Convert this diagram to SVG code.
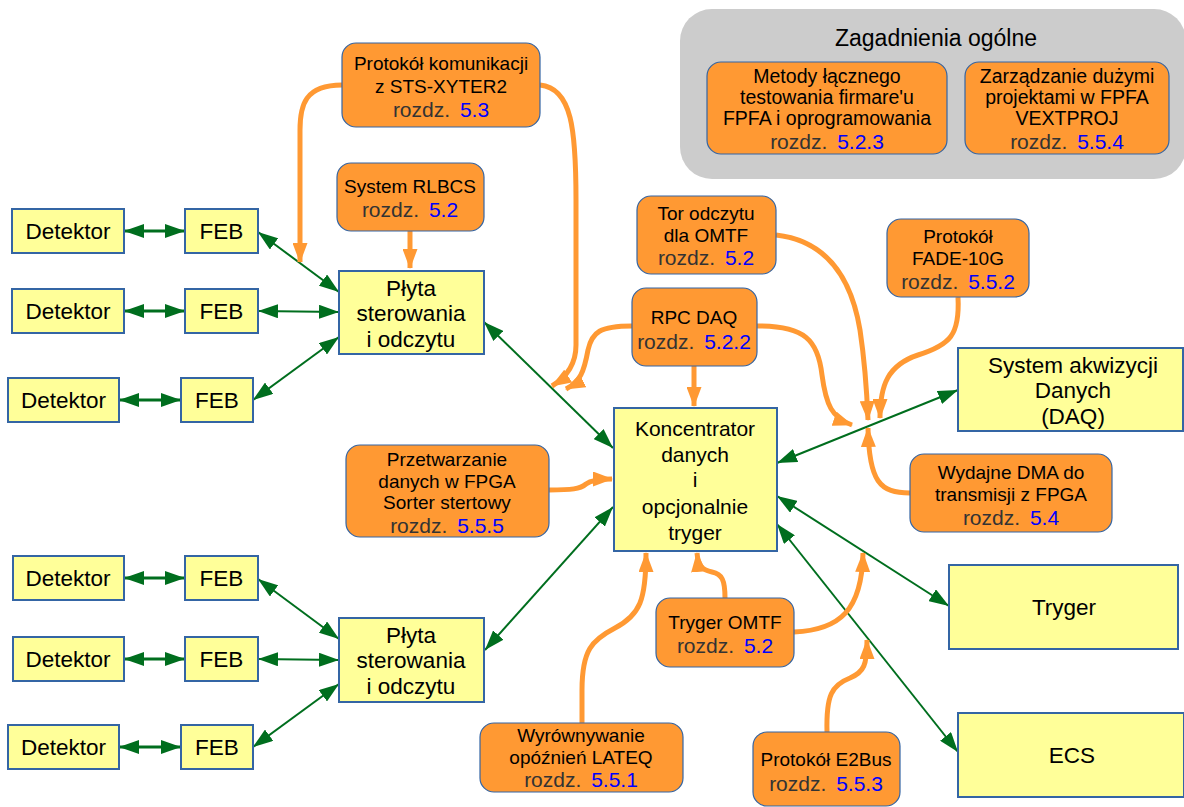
<svg xmlns="http://www.w3.org/2000/svg" width="1184" height="807" viewBox="0 0 1184 807">
<style>
.y{fill:#ffff99;stroke:#3465a4;stroke-width:2}
.o{fill:#ff9933;stroke:#3465a4;stroke-width:1.2}
.t{font-family:"Liberation Sans",Arial,sans-serif;fill:#000;text-anchor:middle}
.yt{font-size:22.5px}
.kt{font-size:21px}
.ot{font-size:19px}
.r{font-size:21px;fill:#333}
.n{fill:#0000ff}
.g{stroke:#006e1e;fill:none;stroke-width:2}
.g3{stroke:#006e1e;fill:none;stroke-width:3}
.oc{stroke:#ff9933;fill:none;stroke-width:5}
</style>
<defs>
<marker id="ga" markerUnits="userSpaceOnUse" viewBox="0 0 20 14" markerWidth="20" markerHeight="14" refX="20" refY="7" orient="auto-start-reverse"><path d="M0,0 L20,7 L0,14 z" fill="#006e1e"/></marker>
<marker id="oa" markerUnits="userSpaceOnUse" viewBox="0 0 20 15" markerWidth="20" markerHeight="15" refX="19" refY="7.5" orient="auto"><path d="M0,0 L20,7.5 L0,15 z" fill="#ff9933"/></marker>
</defs>
<g id="zagadnienia">
<rect x="680" y="9" width="506" height="170" rx="32" fill="#cccccc"/>
<text class="t" x="936" y="46" font-size="23">Zagadnienia ogólne</text>
</g>
<g id="metody">
<rect class="o" x="707" y="62" width="240" height="92" rx="14"/>
<text class="t" font-size="19.5" x="827" y="83">Metody łącznego</text>
<text class="t" font-size="19.5" x="827" y="104">testowania firmare'u</text>
<text class="t" font-size="19.5" x="827" y="125">FPFA i oprogramowania</text>
<text class="t r" x="827" y="149">rozdz. <tspan class="n" dx="4">5.2.3</tspan></text>
</g>
<g id="zarzadzanie">
<rect class="o" x="965" y="62" width="204" height="92" rx="14"/>
<text class="t" font-size="19.5" x="1067" y="83">Zarządzanie dużymi</text>
<text class="t" font-size="19.5" x="1067" y="104">projektami w FPFA</text>
<text class="t" font-size="19.5" x="1067" y="125">VEXTPROJ</text>
<text class="t r" x="1067" y="149">rozdz. <tspan class="n" dx="4">5.5.4</tspan></text>
</g>
<g id="connectors">
<path class="g3" d="M124,231 L185,231" marker-start="url(#ga)" marker-end="url(#ga)"/>
<path class="g3" d="M124,311 L185,311" marker-start="url(#ga)" marker-end="url(#ga)"/>
<path class="g3" d="M119,400 L181,400" marker-start="url(#ga)" marker-end="url(#ga)"/>
<path class="g3" d="M124,578 L185,578" marker-start="url(#ga)" marker-end="url(#ga)"/>
<path class="g3" d="M124,659 L185,659" marker-start="url(#ga)" marker-end="url(#ga)"/>
<path class="g3" d="M119,747 L181,747" marker-start="url(#ga)" marker-end="url(#ga)"/>
<path class="g" d="M258,232 L339,292" marker-start="url(#ga)" marker-end="url(#ga)"/>
<path class="g" d="M258,311 L339,312" marker-start="url(#ga)" marker-end="url(#ga)"/>
<path class="g" d="M253,400 L339,337" marker-start="url(#ga)" marker-end="url(#ga)"/>
<path class="g" d="M258,579 L339,639" marker-start="url(#ga)" marker-end="url(#ga)"/>
<path class="g" d="M258,659 L339,660" marker-start="url(#ga)" marker-end="url(#ga)"/>
<path class="g" d="M253,747 L339,684" marker-start="url(#ga)" marker-end="url(#ga)"/>
<path class="g" d="M484,322 L613,448" marker-start="url(#ga)" marker-end="url(#ga)"/>
<path class="g" d="M485,650 L613,507" marker-start="url(#ga)" marker-end="url(#ga)"/>
<path class="g" d="M777,463 L958,390" marker-start="url(#ga)" marker-end="url(#ga)"/>
<path class="g" d="M777,496 L949,606" marker-start="url(#ga)" marker-end="url(#ga)"/>
<path class="g" d="M777,524 L958,752" marker-start="url(#ga)" marker-end="url(#ga)"/>
<path class="oc" d="M342,85 C305,85 300,105 300,130 L300,262" marker-end="url(#oa)"/>
<path class="oc" d="M540,85 C572,88 576,130 576,200 L576,345 C576,365 565,378 552,386" marker-end="url(#oa)"/>
<path class="oc" d="M410,231 L410,268" marker-end="url(#oa)"/>
<path class="oc" d="M632,326 C600,326 592,332 588,350 C584,372 580,382 566,389" marker-end="url(#oa)"/>
<path class="oc" d="M694,366 L694,406" marker-end="url(#oa)"/>
<path class="oc" d="M757,326 C805,326 818,340 822,375 C826,405 832,418 852,425" marker-end="url(#oa)"/>
<path class="oc" d="M776,235 C820,240 850,270 860,330 C866,370 867,395 868,420" marker-end="url(#oa)"/>
<path class="oc" d="M958,297 C960,335 950,345 918,355 C888,365 880,385 880,418" marker-end="url(#oa)"/>
<path class="oc" d="M910,493 C880,493 869,482 868,428" marker-end="url(#oa)"/>
<path class="oc" d="M549,490 C572,490 580,489 586,484 C590,481 596,479 612,479" marker-end="url(#oa)"/>
<path class="oc" d="M725,598 C725,580 722,574 712,572 C702,570 698,565 697,553" marker-end="url(#oa)"/>
<path class="oc" d="M794,632 C840,630 862,610 863,553" marker-end="url(#oa)"/>
<path class="oc" d="M582,723 L582,690 C582,650 592,640 615,628 C640,615 646,600 646,553" marker-end="url(#oa)"/>
<path class="oc" d="M827,732 C826,695 832,685 850,678 C864,672 867,665 867,640" marker-end="url(#oa)"/>
</g>
<g id="det1"><rect class="y" x="12" y="209" width="112" height="44"/><text class="t yt" x="68" y="239">Detektor</text></g>
<g id="feb1"><rect class="y" x="185" y="209" width="73" height="44"/><text class="t yt" x="221.5" y="239">FEB</text></g>
<g id="det2"><rect class="y" x="12" y="289" width="112" height="44"/><text class="t yt" x="68" y="319">Detektor</text></g>
<g id="feb2"><rect class="y" x="185" y="289" width="73" height="44"/><text class="t yt" x="221.5" y="319">FEB</text></g>
<g id="det3"><rect class="y" x="8" y="378" width="111" height="44"/><text class="t yt" x="63.5" y="408">Detektor</text></g>
<g id="feb3"><rect class="y" x="181" y="378" width="72" height="44"/><text class="t yt" x="217" y="408">FEB</text></g>
<g id="det4"><rect class="y" x="13" y="556" width="111" height="44"/><text class="t yt" x="68" y="586">Detektor</text></g>
<g id="feb4"><rect class="y" x="185" y="556" width="73" height="44"/><text class="t yt" x="221.5" y="586">FEB</text></g>
<g id="det5"><rect class="y" x="13" y="637" width="111" height="44"/><text class="t yt" x="68" y="667">Detektor</text></g>
<g id="feb5"><rect class="y" x="185" y="637" width="73" height="44"/><text class="t yt" x="221.5" y="667">FEB</text></g>
<g id="det6"><rect class="y" x="8" y="725" width="111" height="44"/><text class="t yt" x="63.5" y="755">Detektor</text></g>
<g id="feb6"><rect class="y" x="181" y="725" width="72" height="44"/><text class="t yt" x="217" y="755">FEB</text></g>
<g id="plyta1"><rect class="y" x="339" y="271" width="145" height="83"/>
<text class="t yt" x="411" y="296">Płyta</text><text class="t yt" x="411" y="321">sterowania</text><text class="t yt" x="411" y="347">i odczytu</text></g>
<g id="plyta2"><rect class="y" x="339" y="618" width="145" height="84"/>
<text class="t yt" x="411" y="643">Płyta</text><text class="t yt" x="411" y="668">sterowania</text><text class="t yt" x="411" y="694">i odczytu</text></g>
<g id="koncentrator"><rect class="y" x="614" y="408" width="163" height="143"/>
<text class="t kt" x="695" y="436">Koncentrator</text><text class="t kt" x="695" y="462">danych</text><text class="t kt" x="695" y="487">i</text><text class="t kt" x="695" y="514">opcjonalnie</text><text class="t kt" x="695" y="540">tryger</text></g>
<g id="daq"><rect class="y" x="958" y="348" width="225" height="83"/>
<text class="t yt" x="1073" y="373">System akwizycji</text><text class="t yt" x="1073" y="398">Danych</text><text class="t yt" x="1073" y="424">(DAQ)</text></g>
<g id="tryger"><rect class="y" x="949" y="565" width="229" height="84"/><text class="t yt" x="1064" y="615">Tryger</text></g>
<g id="ecs"><rect class="y" x="958" y="713" width="226" height="84"/><text class="t yt" x="1072" y="763">ECS</text></g>
<g id="protokol-sts"><rect class="o" x="342" y="43" width="198" height="84" rx="14"/>
<text class="t ot" x="441" y="70">Protokół komunikacji</text><text class="t ot" x="441" y="93">z STS-XYTER2</text><text class="t r" x="441" y="117">rozdz. <tspan class="n" dx="4">5.3</tspan></text></g>
<g id="rlbcs"><rect class="o" x="337" y="163" width="147" height="68" rx="14"/>
<text class="t ot" x="410" y="193">System RLBCS</text><text class="t r" x="410" y="217">rozdz. <tspan class="n" dx="4">5.2</tspan></text></g>
<g id="tor-omtf"><rect class="o" x="637" y="196" width="139" height="78" rx="14"/>
<text class="t ot" x="706" y="220">Tor odczytu</text><text class="t ot" x="706" y="242">dla OMTF</text><text class="t r" x="706" y="265">rozdz. <tspan class="n" dx="4">5.2</tspan></text></g>
<g id="rpc-daq"><rect class="o" x="632" y="288" width="125" height="78" rx="14"/>
<text class="t ot" x="694" y="324">RPC DAQ</text><text class="t r" x="694" y="349">rozdz. <tspan class="n" dx="4">5.2.2</tspan></text></g>
<g id="fade"><rect class="o" x="887" y="219" width="142" height="78" rx="14"/>
<text class="t ot" x="958" y="243">Protokół</text><text class="t ot" x="958" y="265">FADE-10G</text><text class="t r" x="958" y="289">rozdz. <tspan class="n" dx="4">5.5.2</tspan></text></g>
<g id="dma"><rect class="o" x="910" y="454" width="202" height="78" rx="14"/>
<text class="t ot" x="1011" y="479">Wydajne DMA do</text><text class="t ot" x="1011" y="501">transmisji z FPGA</text><text class="t r" x="1011" y="525">rozdz. <tspan class="n" dx="4">5.4</tspan></text></g>
<g id="przetwarzanie"><rect class="o" x="346" y="445" width="203" height="92" rx="14"/>
<text class="t ot" x="447" y="466">Przetwarzanie</text><text class="t ot" x="447" y="488">danych w FPGA</text><text class="t ot" x="447" y="509">Sorter stertowy</text><text class="t r" x="447" y="533">rozdz. <tspan class="n" dx="4">5.5.5</tspan></text></g>
<g id="tryger-omtf"><rect class="o" x="656" y="598" width="138" height="69" rx="14"/>
<text class="t ot" x="725" y="629">Tryger OMTF</text><text class="t r" x="725" y="653">rozdz. <tspan class="n" dx="4">5.2</tspan></text></g>
<g id="lateq"><rect class="o" x="480" y="723" width="203" height="69" rx="14"/>
<text class="t ot" x="581" y="742">Wyrównywanie</text><text class="t ot" x="581" y="764">opóźnień LATEQ</text><text class="t r" x="581" y="787">rozdz. <tspan class="n" dx="4">5.5.1</tspan></text></g>
<g id="e2bus"><rect class="o" x="753" y="732" width="147" height="74" rx="14"/>
<text class="t ot" x="826" y="766">Protokół E2Bus</text><text class="t r" x="826" y="791">rozdz. <tspan class="n" dx="4">5.5.3</tspan></text></g>
</svg>
